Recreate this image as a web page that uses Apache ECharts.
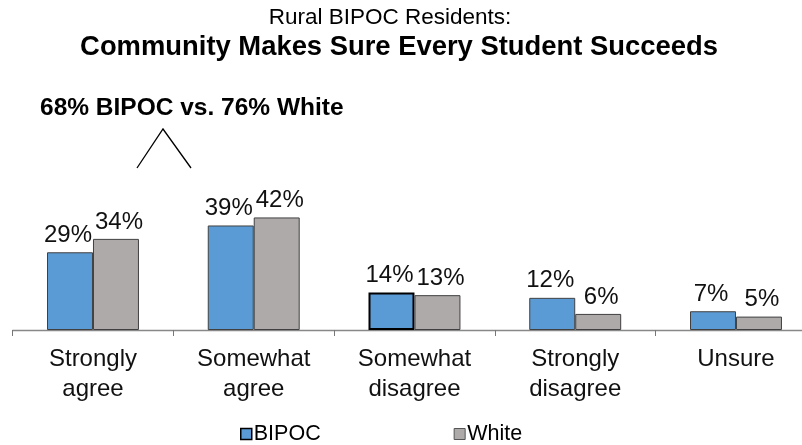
<!DOCTYPE html>
<html><head><meta charset="utf-8">
<script src="https://cdn.jsdelivr.net/npm/echarts@6/dist/echarts.min.js"></script>
<style>html,body{margin:0;padding:0;background:#fff}#c{width:802px;height:445px}</style>
</head><body><div id="c"></div>
<script>
var categories = ['Strongly\nagree', 'Somewhat\nagree', 'Somewhat\ndisagree', 'Strongly\ndisagree', 'Unsure'];
var bipoc = [29, 39, 14, 12, 7];
var white = [34, 42, 13, 6, 5];
var seriesNames = ['BIPOC', 'White'];

var chart = echarts.init(document.getElementById('c'), null, {renderer: 'canvas'});
var FONT = '"Liberation Sans", Arial, sans-serif';
var bipocData = bipoc.map(function (v, i) {
  return i === 2 ? {value: v, itemStyle: {borderColor: '#000', borderWidth: 2}} : v;
});
chart.setOption({
  animation: false,
  title: [
    {text: 'Rural BIPOC Residents:', left: 390, textAlign: 'center', top: 6, padding: 0,
     textStyle: {fontFamily: FONT, fontSize: 22.5, fontWeight: 'normal', color: '#000'}},
    {text: 'Community Makes Sure Every Student Succeeds', left: 399, textAlign: 'center', top: 34, padding: 0,
     textStyle: {fontFamily: FONT, fontSize: 27.4, fontWeight: 'bold', color: '#000'}},
    {text: '68% BIPOC vs. 76% White', left: 40, top: 96, padding: 0,
     textStyle: {fontFamily: FONT, fontSize: 24.5, fontWeight: 'bold', color: '#000'}}
  ],
  graphic: [{
    type: 'polyline',
    shape: {points: [[137, 168], [163, 129], [191, 168]]},
    style: {stroke: '#000', lineWidth: 1.3, fill: null}
  }],
  legend: {
    top: 418, left: 235, itemGap: 133, itemWidth: 11, itemHeight: 11,
    icon: 'rect',
    textStyle: {fontFamily: FONT, fontSize: 21.5, color: '#000', padding: [0, 0, 0, -3]},
    data: [
      {name: 'BIPOC', itemStyle: {borderColor: '#000', borderWidth: 1.5}},
      {name: 'White', itemStyle: {borderColor: '#555', borderWidth: 1}}
    ]
  },
  grid: {left: 12.6, width: 803.75, top: 196, height: 134, containLabel: false, outerBoundsMode: 'none'},
  xAxis: {
    type: 'category', data: categories,
    axisLine: {lineStyle: {color: '#888', width: 1.3}},
    axisTick: {show: true, length: 6, lineStyle: {color: '#777'}},
    axisLabel: {fontFamily: FONT, fontSize: 24, color: '#111', lineHeight: 30, margin: 14, interval: 0}
  },
  yAxis: {type: 'value', min: 0, max: 50, show: false, splitLine: {show: false}},
  series: [
    {name: seriesNames[0], type: 'bar', data: bipocData, barGap: '0%', barCategoryGap: '42.8%',
     itemStyle: {color: '#5B9BD5', borderColor: '#404040', borderWidth: 1},
     label: {show: true, position: 'top', distance: 5, offset: [-2, 0], formatter: '{c}%', fontFamily: FONT, fontSize: 24, color: '#111'}},
    {name: seriesNames[1], type: 'bar', data: white, barGap: '0%', barCategoryGap: '42.8%',
     itemStyle: {color: '#AEAAAA', borderColor: '#404040', borderWidth: 1},
     label: {show: true, position: 'top', distance: 5, offset: [3, 0], formatter: '{c}%', fontFamily: FONT, fontSize: 24, color: '#111'}}
  ]
});
</script></body></html>
